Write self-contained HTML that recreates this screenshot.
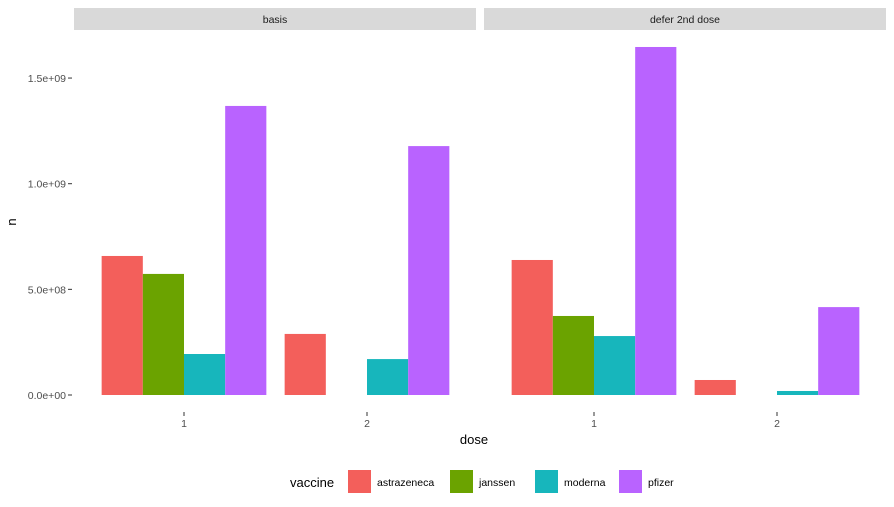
<!DOCTYPE html>
<html><head><meta charset="utf-8"><style>
body{margin:0;background:#fff;}
svg{display:block;font-family:"Liberation Sans",sans-serif;}
</style></head><body>
<svg id="c" width="894" height="507"></svg>
<script>
const panels = ["basis", "defer 2nd dose"];
const doses = ["1", "2"];
const vaccines = ["astrazeneca", "janssen", "moderna", "pfizer"];
const basisValues = [[658e6, 573e6, 194e6, 1368e6], [289e6, 0, 170e6, 1178e6]];
const deferValues = [[639e6, 374e6, 279e6, 1647e6], [71e6, 0, 19e6, 416e6]];
const yTicks = [0, 5e8, 1e9, 1.5e9];
const yTickLabels = ["0.0e+00", "5.0e+08", "1.0e+09", "1.5e+09"];
const colors = ["#F35F5B", "#6BA300", "#17B6BC", "#B963FF"];
const allValues = [basisValues, deferValues];

const svg = document.getElementById('c');
const NS = "http://www.w3.org/2000/svg";
function mk(tag, attrs, text){const e=document.createElementNS(NS,tag);for(const k in attrs)e.setAttribute(k,attrs[k]);if(text!==undefined)e.textContent=text;svg.appendChild(e);return e;}
const y0 = 395, pxPer = 211.3/1e9;
function yScale(v){return y0 - v*pxPer;}
const panelX = [74, 484], panelW = 402, unit = 183;
function xScale(p, i){return panelX[p] + 110 + i*unit;}

yTicks.forEach((t,i)=>{
  const tl = mk('text',{x:66,y:yScale(t)+4,'text-anchor':'end','font-size':'10.5',fill:'#4d4d4d'},yTickLabels[i]);
  
  
  mk('line',{x1:68,x2:72,y1:yScale(t),y2:yScale(t),stroke:'#333','stroke-width':1});
});
const yt = mk('text',{x:16,y:222,'text-anchor':'middle','font-size':'13',fill:'#000',transform:'rotate(-90 16 222)'},'n');



panels.forEach((pn,p)=>{
  const st = mk('rect',{x:panelX[p],y:8,width:panelW,height:22,fill:'#d9d9d9'});
  
  
  const stt = mk('text',{x:panelX[p]+panelW/2,y:23,'text-anchor':'middle','font-size':'10.5',fill:'#1a1a1a'},pn);
  
  
  doses.forEach((d,i)=>{
    const cx = xScale(p,i);
    const bw = unit*0.9/vaccines.length;
    vaccines.forEach((v,k)=>{
      const val = allValues[p][i][k];
      const r = mk('rect',{x:cx-unit*0.45+k*bw,y:yScale(val),width:bw,height:y0-yScale(val),fill:colors[k]});
      
      
    });
    mk('line',{x1:cx,x2:cx,y1:412,y2:416,stroke:'#333','stroke-width':1});
    const xl = mk('text',{x:cx,y:427,'text-anchor':'middle','font-size':'10.5',fill:'#4d4d4d'},d);
    
    
  });
});
const xt = mk('text',{x:474,y:444,'text-anchor':'middle','font-size':'13',fill:'#000'},'dose');



const lt = mk('text',{x:290,y:487,'font-size':'13',fill:'#000'},'vaccine');


const keyX = [348, 450, 535, 619];
vaccines.forEach((v,k)=>{
  const r = mk('rect',{x:keyX[k],y:470,width:23,height:23,fill:colors[k]});
  
  
  const t = mk('text',{x:keyX[k]+29,y:486,'font-size':'10.5',fill:'#000'},v);
  
  
});
</script>
</body></html>
